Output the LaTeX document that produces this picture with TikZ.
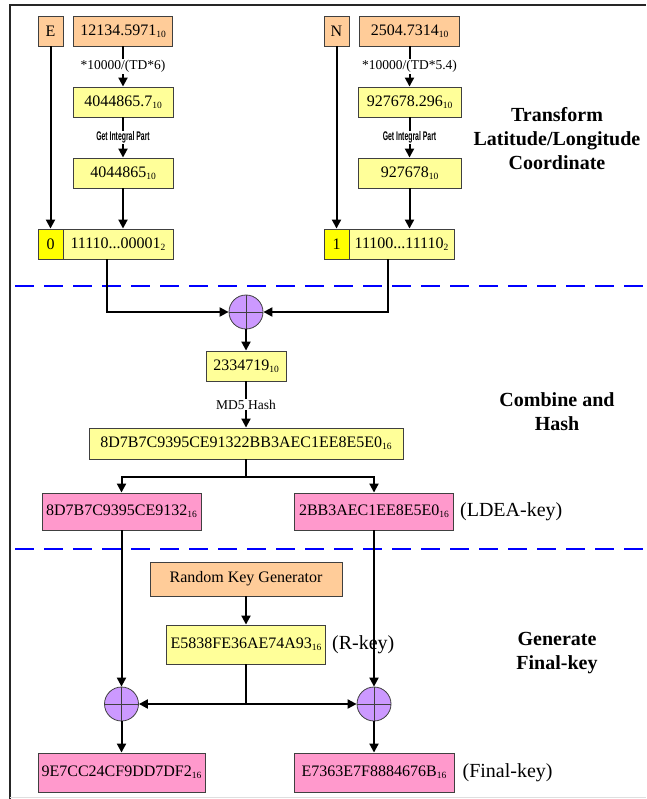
\documentclass[tikz,border=0pt]{standalone}
\usepackage{fontspec}
\usepackage{graphicx}
\setmainfont{Liberation Serif}
\newfontfamily\condfont{Liberation Sans}
\usetikzlibrary{arrows.meta,calc}
\definecolor{peach}{HTML}{FFCC99}
\definecolor{lyel}{HTML}{FFFF99}
\definecolor{byel}{HTML}{FFFF00}
\definecolor{pinkb}{HTML}{FF99CC}
\definecolor{purp}{HTML}{CC99FF}
\definecolor{edgec}{HTML}{404040}
\newcommand\sbs[1]{\raisebox{-0.3ex}{\fontsize{9.5}{9.5}\selectfont #1}}
\begin{document}
\begin{tikzpicture}[x=1pt,y=-1pt,
 box/.style={draw=edgec,line width=0.9pt,inner sep=0pt,minimum height=30pt,font=\fontsize{16}{19}\selectfont},
 orbox/.style={box,fill=peach},
 yebox/.style={box,fill=lyel},
 bybox/.style={box,fill=byel},
 pkbox/.style={box,fill=pinkb,minimum height=37pt},
 xor/.style={circle,draw=edgec,line width=0.8pt,fill=purp,minimum size=34pt,inner sep=0pt,
   path picture={\draw[edgec,line width=0.8pt] (path picture bounding box.north) -- (path picture bounding box.south) (path picture bounding box.west) -- (path picture bounding box.east);}},
 arr/.style={line width=2pt,-{Triangle[length=9pt,width=9pt]}},
 ln/.style={line width=2pt},
 steplbl/.style={fill=white,inner sep=1pt,font=\fontsize{13.5}{15}\selectfont},
 condlbl/.style={fill=white,inner sep=1pt,font=\condfont\bfseries\fontsize{12.5}{14}\selectfont},
 side/.style={anchor=west,inner sep=2pt,font=\fontsize{20}{24}\selectfont},
 title/.style={align=center,font=\bfseries\fontsize{20}{24}\selectfont},
 sep/.style={blue,line width=2.5pt,dash pattern=on 19pt off 10pt}
]
\useasboundingbox (0,0) rectangle (646,799);
% frame
\draw[line width=1.2pt,black!85] (10,799) -- (10,5) -- (646,5);
\draw[gray!25,line width=1pt] (10,797.5) -- (646,797.5);
% separators
\draw[sep] (15,286) -- (646,286);
\draw[sep] (15,549) -- (646,549);
% titles
\node[title] (t1) at (557,139) {Transform\\Latitude/Longitude\\Coordinate};
\node[title] (t2) at (557,412) {Combine and\\Hash};
\node[title] (t3) at (557,653) {Generate\\Final-key};
% left column
\node[orbox,minimum width=25pt] (E) at (50.5,31) {E};
\node[orbox,minimum width=99pt] (e1) at (123,31) {12134.5971\sbs{10}};
\node[yebox,minimum width=100pt] (e2) at (123,102) {4044865.7\sbs{10}};
\node[yebox,minimum width=100pt] (e3) at (123,173) {4044865\sbs{10}};
\node[bybox,minimum width=25pt] (e0) at (50.5,244) {0};
\node[yebox,minimum width=110pt] (e4) at (118,244) {11110...00001\sbs{2}};
% right column
\node[orbox,minimum width=25pt] (N) at (336.5,31) {N};
\node[orbox,minimum width=100pt] (n1) at (409.5,31) {2504.7314\sbs{10}};
\node[yebox,minimum width=103pt] (n2) at (409.5,102) {927678.296\sbs{10}};
\node[yebox,minimum width=103pt] (n3) at (409.5,173) {927678\sbs{10}};
\node[bybox,minimum width=25pt] (n0) at (336.5,244) {1};
\node[yebox,minimum width=105pt] (n4) at (401.5,244) {11100...11110\sbs{2}};
% arrows top
\draw[arr] (e1) -- node[steplbl]{*10000/(TD*6)} (e2);
\draw[arr] (e2) -- node[condlbl]{\scalebox{0.55}[1]{Get Integral Part}} (e3);
\draw[arr] (e3) -- (e3 |- e4.north);
\draw[arr] (E) -- (e0);
\draw[arr] (n1) -- node[steplbl]{*10000/(TD*5.4)} (n2);
\draw[arr] (n2) -- node[condlbl]{\scalebox{0.55}[1]{Get Integral Part}} (n3);
\draw[arr] (n3) -- (n3 |- n4.north);
\draw[arr] (N) -- (n0);
% combine
\node[xor] (x1) at (246,312) {};
\draw[arr] ([xshift=-11pt]e4.south) |- (x1);
\draw[arr] ([xshift=-13.5pt]n4.south) |- (x1);
\node[yebox,minimum width=80pt] (s1) at (246,366) {2334719\sbs{10}};
\draw[arr] (x1) -- (s1);
\node[yebox,minimum width=314pt,minimum height=31pt] (h1) at (246,443.5) {8D7B7C9395CE91322BB3AEC1EE8E5E0\sbs{16}};
\draw[arr] (s1) -- node[steplbl]{MD5 Hash} (h1);
\coordinate (j1) at (246,477);
\node[pkbox,minimum width=159pt] (p1) at (121.5,511.5) {8D7B7C9395CE9132\sbs{16}};
\node[pkbox,minimum width=159pt] (p2) at (374,511.5) {2BB3AEC1EE8E5E0\sbs{16}};
\node[side,xshift=4pt] (lk) at (p2.east) {(LDEA-key)};
\draw[ln] (h1) -- (j1);
\draw[arr] (j1) -| (p1);
\draw[arr] (j1) -| (p2);
% generate
\node[orbox,minimum width=192pt,minimum height=34pt] (rk) at (246,579) {Random Key Generator};
\node[yebox,minimum width=159pt,minimum height=39pt] (r) at (246,644.5) {E5838FE36AE74A93\sbs{16}};
\node[side,xshift=4pt] (rkl) at (r.east) {(R-key)};
\draw[arr] (rk) -- (r);
\node[xor] (x2) at (121.5,704) {};
\node[xor] (x3) at (374,704) {};
\draw[arr] (p1) -- (x2);
\draw[arr] (p2) -- (x3);
\coordinate (j2) at (246,704);
\draw[ln] (r) -- (j2);
\draw[arr] (j2) -- (x2);
\draw[arr] (j2) -- (x3);
\node[pkbox,minimum width=167pt,minimum height=39pt] (f1) at (121.5,772.5) {9E7CC24CF9DD7DF2\sbs{16}};
\node[pkbox,minimum width=160pt,minimum height=39pt] (f2) at (374,772.5) {E7363E7F8884676B\sbs{16}};
\node[side,xshift=6pt] (fkl) at (f2.east) {(Final-key)};
\draw[arr] (x2) -- (f1);
\draw[arr] (x3) -- (f2);
\end{tikzpicture}
\end{document}
